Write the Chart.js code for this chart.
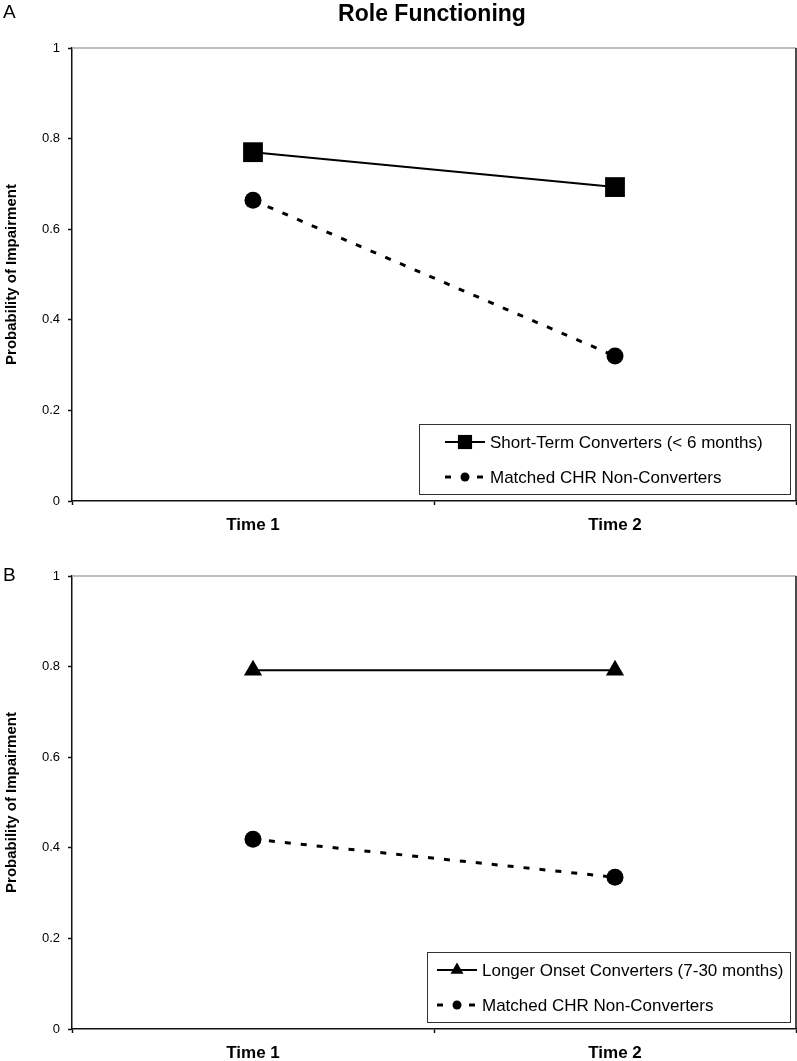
<!DOCTYPE html>
<html>
<head>
<meta charset="utf-8">
<script src="https://cdn.jsdelivr.net/npm/chart.js@4.4.1/dist/chart.umd.min.js"></script>
<style>
  html, body { margin: 0; padding: 0; background: #fff; }
  #wrap { position: relative; width: 797px; height: 1061px; overflow: hidden; }
  canvas { position: absolute; left: 0; display: block; }
  #panelA { top: 0; }
  #panelB { top: 545px; }
</style>
</head>
<body>
<div id="wrap">
  <canvas id="panelA" width="797" height="545"></canvas>
  <canvas id="panelB" width="797" height="516"></canvas>
</div>
<script>
// data
const timeLabels = ['Time 1', 'Time 2'];

const panelANames = ['Short-Term Converters (< 6 months)', 'Matched CHR Non-Converters'];
const shortTermConverters = [0.770, 0.693];
const shortTermNonConverters = [0.664, 0.320];

const panelBNames = ['Longer Onset Converters (7-30 months)', 'Matched CHR Non-Converters'];
const longerOnsetConverters = [0.792, 0.792];
const longerOnsetNonConverters = [0.419, 0.335];

const chartTitle = 'Role Functioning';
const yAxisTitle = 'Probability of Impairment';

const FONT = "'Liberation Sans', Arial, sans-serif";

// frame, panel letter, title and boxed legend inside the plot area
const panelDecor = {
    id: 'panelDecor',
    afterDraw(chart, args, opts) {
        const { ctx, chartArea: a } = chart;
        ctx.save();

        ctx.lineWidth = 1.5;
        ctx.strokeStyle = '#a8a8a8';
        ctx.beginPath();
        ctx.moveTo(a.left, a.top);
        ctx.lineTo(a.right, a.top);
        ctx.stroke();
        ctx.strokeStyle = '#111';
        ctx.beginPath();
        ctx.moveTo(a.right, a.top);
        ctx.lineTo(a.right, a.bottom);
        ctx.stroke();

        ctx.fillStyle = '#000';
        ctx.textBaseline = 'alphabetic';
        ctx.textAlign = 'left';
        ctx.font = '19px ' + FONT;
        ctx.fillText(opts.letter, 3, opts.letterY);

        if (opts.title) {
            ctx.font = 'bold 23px ' + FONT;
            ctx.textAlign = 'center';
            ctx.fillText(opts.title, 432, 21);
        }

        // legend box
        const lg = opts.legend;
        const bx = a.right - 6 - lg.width;
        const by = a.bottom - 7 - lg.height;
        ctx.fillStyle = '#fff';
        ctx.fillRect(bx, by, lg.width, lg.height);
        ctx.lineWidth = 1;
        ctx.strokeStyle = '#333';
        ctx.strokeRect(bx + 0.5, by + 0.5, lg.width, lg.height);

        ctx.font = '17px ' + FONT;
        ctx.textAlign = 'left';
        ctx.textBaseline = 'middle';
        chart.data.datasets.forEach((ds, i) => {
            const y = by + lg.rowTop + i * lg.rowGap;
            const x0 = bx + lg.padLeft;
            const x1 = x0 + 40;
            ctx.strokeStyle = '#000';
            ctx.lineWidth = ds.borderWidth;
            ctx.setLineDash(ds.borderDash || []);
            ctx.beginPath();
            ctx.moveTo(x0, y);
            ctx.lineTo(x1, y);
            ctx.stroke();
            ctx.setLineDash([]);
            ctx.fillStyle = '#000';
            Chart.helpers.drawPoint(ctx, {
                pointStyle: ds.pointStyle,
                radius: ds.legendPointRadius,
                rotation: 0,
                borderWidth: 0
            }, (x0 + x1) / 2, y);
            ctx.fillStyle = '#000';
            ctx.fillText(ds.label, x1 + 5, y + 1);
        });
        ctx.restore();
    }
};

function makePanel(canvasId, names, converters, nonConverters, convStyle, convRadius, convLegendRadius, decor, padTop, xHeight) {
    return new Chart(document.getElementById(canvasId), {
        type: 'line',
        data: {
            labels: timeLabels,
            datasets: [{
                label: names[0],
                data: converters,
                borderColor: '#000',
                backgroundColor: '#000',
                borderWidth: 2,
                pointStyle: convStyle,
                pointRadius: convRadius,
                pointHoverRadius: convRadius,
                pointBorderWidth: 0,
                legendPointRadius: convLegendRadius
            }, {
                label: names[1],
                data: nonConverters,
                borderColor: '#000',
                backgroundColor: '#000',
                borderWidth: 3,
                borderDash: [6, 10],
                pointStyle: 'circle',
                pointRadius: 8.5,
                pointHoverRadius: 8.5,
                pointBorderWidth: 0,
                legendPointRadius: 4.5
            }]
        },
        options: {
            responsive: false,
            animation: false,
            devicePixelRatio: 1,
            layout: {
                autoPadding: false,
                padding: { top: padTop, right: 1, left: 0, bottom: 0 }
            },
            scales: {
                x: {
                    type: 'category',
                    offset: true,
                    afterFit: scale => {
                        scale.height = xHeight;
                        scale.paddingLeft = 0;
                        scale.paddingRight = 0;
                    },
                    border: { display: true, color: '#111', width: 1.5 },
                    grid: {
                        offset: true,
                        drawOnChartArea: false,
                        drawTicks: true,
                        tickLength: 4,
                        tickColor: '#111',
                        tickWidth: 1.5
                    },
                    ticks: {
                        color: '#000',
                        padding: 10,
                        font: { family: FONT, size: 17, weight: 'bold' }
                    }
                },
                y: {
                    min: 0,
                    max: 1,
                    afterFit: scale => { scale.width = 72; },
                    border: { display: true, color: '#111', width: 1.5 },
                    grid: {
                        drawOnChartArea: false,
                        drawTicks: true,
                        tickLength: 4,
                        tickColor: '#111',
                        tickWidth: 1.5
                    },
                    ticks: {
                        stepSize: 0.2,
                        color: '#000',
                        padding: 8,
                        font: { family: FONT, size: 13 },
                        callback: v => String(+v.toFixed(1))
                    },
                    title: {
                        display: true,
                        text: yAxisTitle,
                        color: '#000',
                        padding: { top: 3, bottom: 0 },
                        font: { family: "'Liberation Sans Narrow', " + FONT, size: 15, weight: 'bold' }
                    }
                }
            },
            plugins: {
                legend: { display: false },
                tooltip: { enabled: false },
                panelDecor: decor
            }
        },
        plugins: [panelDecor]
    });
}

makePanel('panelA', panelANames, shortTermConverters, shortTermNonConverters,
    'rect', 14, 10,
    {
        letter: 'A', letterY: 18, title: chartTitle,
        legend: { width: 371, height: 70, padLeft: 26, rowTop: 18, rowGap: 35 }
    }, 48, 44);

makePanel('panelB', panelBNames, longerOnsetConverters, longerOnsetNonConverters,
    'triangle', 10.5, 7.5,
    {
        letter: 'B', letterY: 36, title: null,
        legend: { width: 363, height: 70, padLeft: 10, rowTop: 18, rowGap: 35 }
    }, 31, 32);
</script>
</body>
</html>
